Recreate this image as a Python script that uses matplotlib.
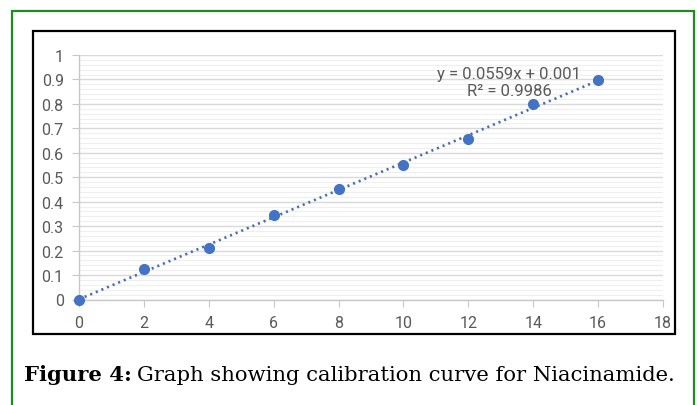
import numpy as np
import matplotlib
matplotlib.use("Agg")
import matplotlib.pyplot as plt
from matplotlib.patches import Rectangle
from matplotlib.ticker import MultipleLocator

# calibration data (concentration vs absorbance)
conc = [0, 2, 4, 6, 8, 10, 12, 14, 16]
absorb = [0.0, 0.124, 0.210, 0.346, 0.450, 0.551, 0.657, 0.800, 0.898]
slope = 0.0559
intercept = 0.001
r2 = 0.9986
x_ticks = [0, 2, 4, 6, 8, 10, 12, 14, 16, 18]
y_ticks = [0, 0.1, 0.2, 0.3, 0.4, 0.5, 0.6, 0.7, 0.8, 0.9, 1]

blue = "#4472C4"
grey_txt = "#595959"

W, H = 697, 406
fig = plt.figure(figsize=(W / 100, H / 100), dpi=100)

# green frame and black chart box (pixel coords -> figure fraction)
def px_rect(x0, y0, x1, y1, **kw):
    r = Rectangle((x0 / W, 1 - y1 / H), (x1 - x0) / W, (y1 - y0) / H,
                  transform=fig.transFigure, fill=False, **kw)
    fig.add_artist(r)

px_rect(12, 12, 693.5, 420, ec="#1e8c1e", lw=1.6)
px_rect(32.5, 32, 675, 335, ec="black", lw=1.6)

ax = fig.add_axes([79 / W, 1 - 300.5 / H, (663 - 79) / W, (300.5 - 56) / H])
ax.set_xlim(0, 18)
ax.set_ylim(0, 1)
ax.set_xticks(x_ticks)
ax.set_yticks(y_ticks)
ax.set_yticklabels([f"{v:g}" for v in y_ticks])
ax.yaxis.set_minor_locator(MultipleLocator(0.02))

ax.grid(axis="y", which="major", color="#d9d9d9", lw=1.0)
ax.grid(axis="y", which="minor", color="#efefef", lw=0.8)
ax.set_axisbelow(True)

for s in ["top", "right"]:
    ax.spines[s].set_visible(False)
for s in ["left", "bottom"]:
    ax.spines[s].set_color("#c8c8c8")
    ax.spines[s].set_linewidth(1.0)

ax.tick_params(axis="both", which="major", color="#c8c8c8", length=5,
               labelcolor=grey_txt, labelsize=11.5)
ax.tick_params(axis="y", which="minor", length=0)
ax.tick_params(axis="y", pad=6)
ax.tick_params(axis="x", pad=6)
for lab in ax.get_xticklabels() + ax.get_yticklabels():
    lab.set_family("Roboto")

# trendline
xs = np.array([conc[0], conc[-1]])
ax.plot(xs, slope * xs + intercept, color="#4a6db0", lw=1.9,
        linestyle=(0, (0.8, 1.5)), zorder=2)
ax.plot(conc, absorb, "o", color=blue, ms=7, zorder=3, clip_on=False)

ax.text(13.25, 0.89, f"y = {slope}x + {intercept}\nR² = {r2}", ha="center",
        va="center", color=grey_txt, fontsize=12, family="Roboto",
        linespacing=1.15)

# caption
base_y = 1 - 381 / H
t1 = fig.text(24 / W, base_y, "Figure 4:", ha="left", va="baseline",
              fontsize=15.2, family="DejaVu Serif", weight="bold")
fig.canvas.draw()
bb = t1.get_window_extent()
fig.text((bb.x1 + 5) / W, base_y, "Graph showing calibration curve for Niacinamide.",
         ha="left", va="baseline", fontsize=15.2, family="DejaVu Serif")

fig.savefig("out.png", dpi=100)
